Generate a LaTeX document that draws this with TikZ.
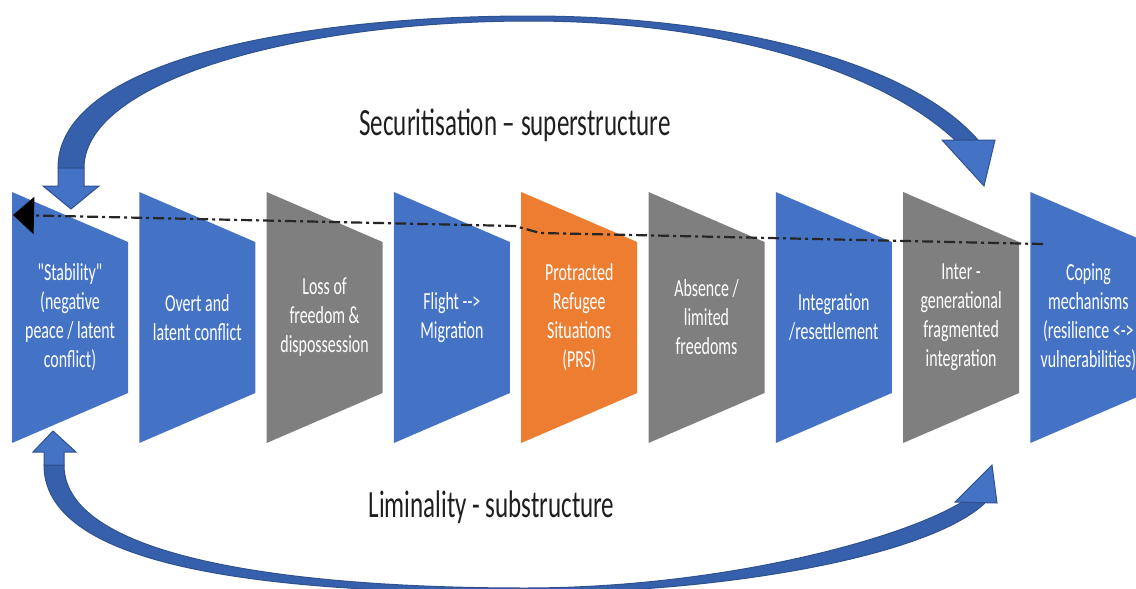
\documentclass[tikz,border=0pt]{standalone}
\usepackage{fontspec}
\setmainfont[FakeStretch=0.65,Ligatures=TeXOff]{Carlito}
\usetikzlibrary{arrows.meta}
\definecolor{stepblue}{HTML}{4472C4}
\definecolor{stepgray}{HTML}{7F7F7F}
\definecolor{steporange}{HTML}{ED7D31}
\definecolor{arcedge}{HTML}{2F528F}
\definecolor{arcbody}{HTML}{3660AB}
\begin{document}
\begin{tikzpicture}[x=1pt,y=-1pt,
  stage/.style={text=white, align=center, inner sep=0pt,
    font=\fontsize{24.5}{29}\selectfont},
  heading/.style={text=black!88, anchor=base, inner sep=0pt,
    font=\fontsize{38.5}{44}\selectfont},
  bigarc/.style={fill=arcbody, draw=arcedge, line width=1pt, line join=round},
  archead/.style={fill=stepblue, draw=arcedge, line width=1pt, line join=miter},
  flowline/.style={black!85, line width=2.2pt,
    dash pattern=on 11pt off 4pt on 3pt off 4pt,
    -{Triangle[length=21pt,width=37pt,fill=black,color=black]}}]
\useasboundingbox (0,0) rectangle (1136,589);
\clip (0,0) rectangle (1136,589);

% stage blocks: tall left side, narrower right side
\foreach \i/\col in {0/stepblue,1/stepblue,2/stepgray,3/stepblue,4/steporange,
                     5/stepgray,6/stepblue,7/stepgray,8/stepblue}{
  \pgfmathsetmacro{\xl}{12+127.3*\i}
  \fill[\col] (\xl,192) -- (\xl+116,242) -- (\xl+116,393) -- (\xl,443) -- cycle;
}

% stage labels
\node[stage] (s1) at (70,317.5) {"Stability"\\(negative\\peace / latent\\conflict)};
\node[stage] (s2) at (197.3,317.5) {Overt and\\latent conflict};
\node[stage] (s3) at (324.6,317.5) {Loss of\\freedom \&\\dispossession};
\node[stage] (s4) at (451.9,317.5) {Flight -->\\Migration};
\node[stage] (s5) at (579.2,317.5) {Protracted\\Refugee\\Situations\\(PRS)};
\node[stage] (s6) at (706.5,317.5) {Absence /\\limited\\freedoms};
\node[stage] (s7) at (833.8,317.5) {Integration\\/resettlement};
\node[stage] (s8) at (961.1,317.5) {Inter -\\generational\\fragmented\\integration};
\node[stage] (s9) at (1088.4,317.5) {Coping\\mechanisms\\(resilience <->\\vulnerabilities)};

% dash-dot return line
\coordinate (flowStart) at (1043,244);
\coordinate (flowEnd) at (13,215);
\draw[flowline] (flowStart) -- (540,233) -- (515,226) -- (flowEnd);

% upper curved arrow
\draw[bigarc] (84,168) .. controls (84,80) and (300,21) .. (530,21)
  .. controls (720,21) and (880,70) .. (955,140) -- (978,140)
  .. controls (910,62) and (730,16) .. (530,16)
  .. controls (300,16) and (58,60) .. (58,168) -- cycle;
\draw[archead] (58,168) -- (58,186) -- (43,186) -- (71,209) -- (99,186)
  -- (84,186) -- (84,168) -- cycle;
\draw[archead] (942,140) -- (984,186) -- (995,140) -- cycle;

% lower curved arrow
\draw[bigarc] (64,465) .. controls (64,560) and (300,588) .. (525,588)
  .. controls (720,588) and (900,540) .. (962,502) -- (985,503)
  .. controls (930,555) and (730,593) .. (525,593)
  .. controls (300,593) and (44,575) .. (44,465) -- cycle;
\draw[archead] (44,465) -- (44,452) -- (33,452) -- (53,431) -- (76,452)
  -- (64,452) -- (64,465) -- cycle;
\draw[archead] (955,502) -- (992,465) -- (997,503) -- cycle;

% headings
\node[heading] (sec) at (515,135) {Securitisation – superstructure};
\node[heading] (lim) at (491.5,517) {Liminality - substructure};
\end{tikzpicture}
\end{document}
